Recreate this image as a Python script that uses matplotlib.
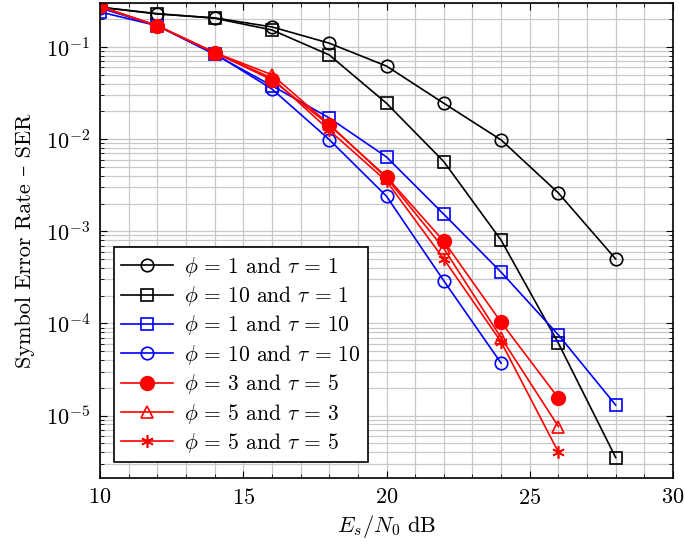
import matplotlib
matplotlib.use("Agg")
import matplotlib.pyplot as plt
from matplotlib.ticker import MultipleLocator, LogLocator, NullFormatter

plt.rcParams['font.family'] = ['cmr10', 'DejaVu Serif']
plt.rcParams['mathtext.fontset'] = 'cm'
plt.rcParams['axes.formatter.use_mathtext'] = True
plt.rcParams['axes.unicode_minus'] = False

snr = [10, 12, 14, 16, 18, 20, 22, 24, 26, 28]
ser_p1_t1 = [0.27, 0.228, 0.207, 0.165, 0.11, 0.062, 0.0245, 0.0098, 0.0026, 5.0e-4]
ser_p10_t1 = [0.27, 0.23, 0.205, 0.153, 0.082, 0.0245, 0.0057, 8.0e-4, 6.1e-5, 3.5e-6]
ser_p1_t10 = [0.24, 0.17, 0.083, 0.038, 0.017, 0.0064, 0.00153, 3.6e-4, 7.5e-5, 1.3e-5]
snr_p10_t10 = [10, 12, 14, 16, 18, 20, 22, 24]
ser_p10_t10 = [0.265, 0.17, 0.085, 0.035, 0.0099, 0.0024, 2.9e-4, 3.7e-5]
snr_red = [10, 12, 14, 16, 18, 20, 22, 24, 26]
ser_p3_t5 = [0.275, 0.17, 0.087, 0.044, 0.0142, 0.0039, 7.8e-4, 1.03e-4, 1.55e-5]
ser_p5_t3 = [0.275, 0.17, 0.087, 0.05, 0.0145, 0.0038, 6.5e-4, 7.0e-5, 7.6e-6]
ser_p5_t5 = [0.275, 0.17, 0.087, 0.046, 0.0125, 0.0035, 5.0e-4, 6.3e-5, 4.0e-6]

labels = [r'$\phi\,=\,1$ and $\tau\,=\,1$', r'$\phi\,=\,10$ and $\tau\,=\,1$',
          r'$\phi\,=\,1$ and $\tau\,=\,10$', r'$\phi\,=\,10$ and $\tau\,=\,10$',
          r'$\phi\,=\,3$ and $\tau\,=\,5$', r'$\phi\,=\,5$ and $\tau\,=\,3$',
          r'$\phi\,=\,5$ and $\tau\,=\,5$']

fig = plt.figure(figsize=(6.85, 5.44), dpi=100)
ax = fig.add_axes([100/685, 1-478/544, (673-100)/685, (478-3)/544])

lw = 1.2
ms = 9
asterisk = (6, 2, 0)
ax.plot(snr, ser_p1_t1, color='black', marker='o', mfc='none', ms=ms, lw=lw, mew=1.2, label=labels[0])
ax.plot(snr, ser_p10_t1, color='black', marker='s', mfc='none', ms=ms, lw=lw, mew=1.2, label=labels[1])
ax.plot(snr, ser_p1_t10, color='blue', marker='s', mfc='none', ms=ms, lw=lw, mew=1.2, label=labels[2])
ax.plot(snr_p10_t10, ser_p10_t10, color='blue', marker='o', mfc='none', ms=ms, lw=lw, mew=1.2, label=labels[3])
ax.plot(snr_red, ser_p3_t5, color='red', marker='o', mfc='red', ms=ms+1, lw=lw, label=labels[4])
ax.plot(snr_red, ser_p5_t3, color='red', marker='^', mfc='none', ms=ms-1, lw=lw, mew=1.2, label=labels[5])
ax.plot(snr_red, ser_p5_t5, color='red', marker=asterisk, mfc='none', ms=ms, lw=lw, mew=1.2, label=labels[6])

ax.set_yscale('log')
ax.set_xlim(10, 30)
ax.set_ylim(2.1e-6, 0.30)
ax.xaxis.set_major_locator(MultipleLocator(5))
ax.xaxis.set_minor_locator(MultipleLocator(1))
ax.yaxis.set_major_locator(LogLocator(base=10, numticks=20))
ax.yaxis.set_minor_locator(LogLocator(base=10, subs=range(2, 10), numticks=20))
ax.yaxis.set_minor_formatter(NullFormatter())

ax.grid(True, which='both', color='#c8c8c8', lw=0.9)
ax.set_axisbelow(True)
ax.tick_params(which='both', direction='in', top=True, right=True, labelsize=16)
ax.tick_params(which='major', length=5, pad=7)
ax.tick_params(which='minor', length=3)
for s in ax.spines.values():
    s.set_linewidth(1.2)

ax.set_xlabel(r'$E_s/N_0$ dB', fontsize=16, labelpad=4)
ax.set_ylabel('Symbol Error Rate – SER', fontsize=16, labelpad=8)

leg = ax.legend(loc='lower left', fontsize=15.5, frameon=True, fancybox=False,
                edgecolor='black', framealpha=1, handlelength=2.4,
                borderpad=0.35, labelspacing=0.25, handletextpad=0.5,
                bbox_to_anchor=(0.005, 0.01))
leg.get_frame().set_linewidth(1.2)

fig.savefig('out.png', dpi=100)
